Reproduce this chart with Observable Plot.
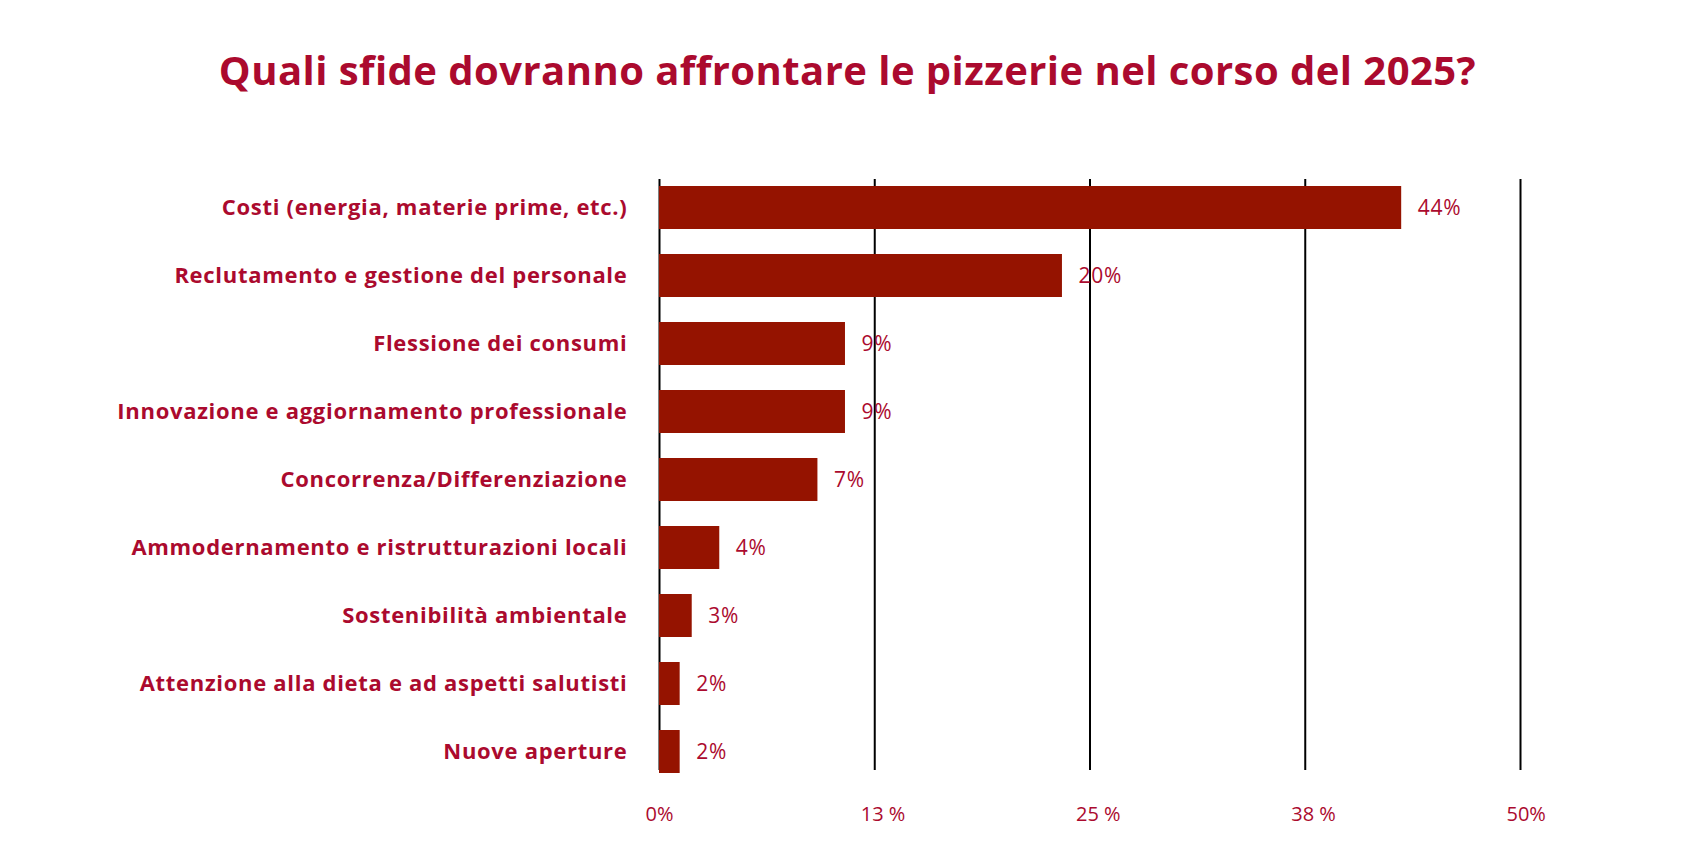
<!DOCTYPE html>
<html>
<head>
<meta charset="utf-8">
<script src="https://cdn.jsdelivr.net/npm/d3@7"></script>
<script src="https://cdn.jsdelivr.net/npm/@observablehq/plot@0.6"></script>
<style>
  html, body { margin: 0; padding: 0; background: #fff; }
  #title {
    height: 120px; box-sizing: border-box; padding-top: 50px;
    text-align: center; font-family: "Open Sans", sans-serif; font-weight: 700;
    font-size: 40px; line-height: 1; color: #ab0a2e; white-space: nowrap;
    letter-spacing: 0.45px;
  }
  #chart svg { display: block; }
  #chart g[aria-label="y-axis tick label"] text { letter-spacing: 0.7px; }
  #chart g[aria-label="text"] text { letter-spacing: 0.8px; }
</style>
</head>
<body>
<div id="title">Quali sfide dovranno affrontare le pizzerie nel corso del 2025?</div>
<div id="chart"></div>
<script>
const categories = [
  "Costi (energia, materie prime, etc.)",
  "Reclutamento e gestione del personale",
  "Flessione dei consumi",
  "Innovazione e aggiornamento professionale",
  "Concorrenza/Differenziazione",
  "Ammodernamento e ristrutturazioni locali",
  "Sostenibilità ambientale",
  "Attenzione alla dieta e ad aspetti salutisti",
  "Nuove aperture"
];
// bar lengths as drawn in the picture (percent)
const values = [43.1, 23.4, 10.8, 10.8, 9.2, 3.5, 1.9, 1.2, 1.2];
// value labels as printed next to the bars
const valueLabels = ["44%", "20%", "9%", "9%", "7%", "4%", "3%", "2%", "2%"];
const tickValues = [0, 12.5, 25, 37.5, 50];
const tickLabels = ["0%", "13 %", "25 %", "38 %", "50%"];

const data = categories.map((c, i) => ({category: c, value: values[i], label: valueLabels[i]}));
const crimson = "#ab0a2e";
const barColor = "#951300";

const chart = Plot.plot({
  width: 1695,
  height: 739,
  marginLeft: 659,
  marginRight: 175,
  marginTop: 65,
  marginBottom: 85,
  style: {fontFamily: "Open Sans, sans-serif", background: "#fff", overflow: "visible"},
  x: {domain: [0, 50], axis: null, label: null},
  y: {domain: categories, paddingInner: 0.375, paddingOuter: 0, axis: null, label: null},
  marks: [
    Plot.ruleX(tickValues, {stroke: "#000", strokeWidth: 2, insetTop: -6, insetBottom: 4}),
    Plot.barX(data, {x: "value", y: "category", fill: barColor}),
    Plot.text(data, {x: "value", y: "category", text: "label", dx: 16, textAnchor: "start",
      fill: crimson, fontSize: 21}),
    Plot.axisY({tickSize: 0, tickPadding: 32, fontSize: 22, fontWeight: 700, color: crimson, label: null}),
    Plot.axisX(tickValues, {tickSize: 0, tickPadding: 32, textAnchor: "start", dx: -14,
      fontSize: 20, color: crimson, label: null,
      tickFormat: d => tickLabels[tickValues.indexOf(d)]})
  ]
});
document.getElementById("chart").appendChild(chart);
</script>
</body>
</html>
